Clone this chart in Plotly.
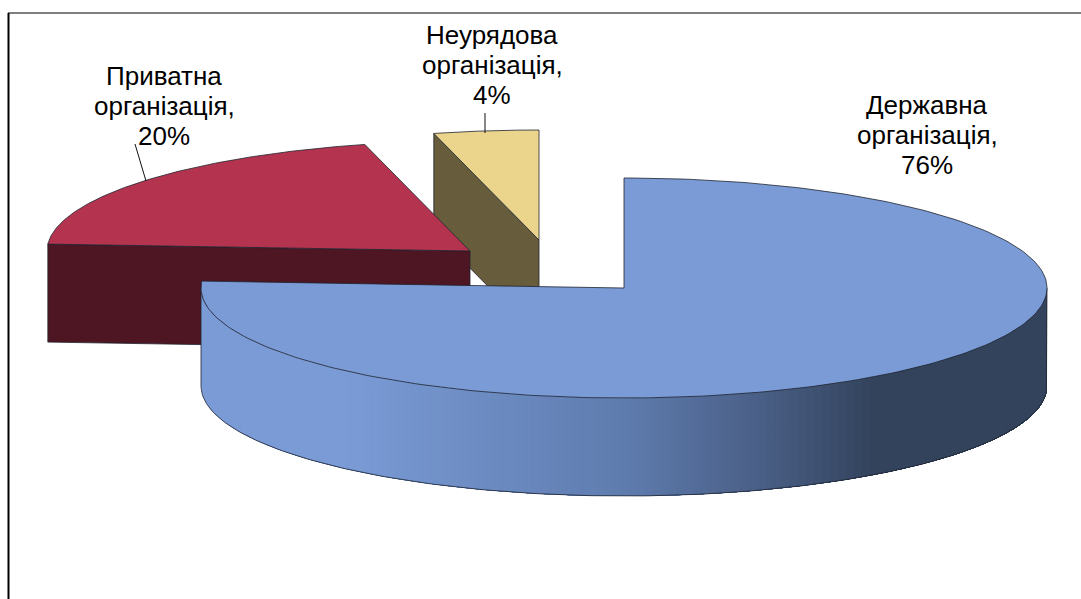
import numpy as np
import plotly.graph_objects as go

# --- data ---
categories = [["Державна", "організація,"], ["Приватна", "організація,"], ["Неурядова", "організація,"]]
shares = [76, 20, 4]
top_colors = ["#7A9BD6", "#B4344F", "#EBD48B"]
side_colors = ["#7A9BD6", "#4E1522", "#675C3B"]

# --- drawing geometry (pixels) ---
W, H = 1081, 599
RX, RY, DEPTH = 423, 110, 98
centers = [(624, 288), (470, 251), (539, 240)]
label_pos = [(927, 135), (164, 106), (492, 65)]
LINE_STEP = 30
leaders = [None, ((146, 181), (135, 144)), ((485, 133), (485, 113))]
EDGE = "#1f2430"

cum = np.cumsum([0] + shares) / sum(shares) * 360
spans = [(cum[i], cum[i + 1]) for i in range(len(shares))]


def pt(c, deg, dz=0.0):
    r = np.radians(deg)
    return c[0] + RX * np.sin(r), c[1] - RY * np.cos(r) + dz


def arc(c, a0, a1, dz=0.0, n=240):
    return pt(c, np.linspace(a0, a1, n), dz)


def poly(fig, x, y, fill, line=EDGE, width=0.8):
    fig.add_trace(go.Scatter(x=list(x), y=list(y), mode="lines", fill="toself", fillcolor=fill,
                             line=dict(color=line, width=width), hoverinfo="skip", showlegend=False))


def wedge(c, a0, a1):
    ax, ay = arc(c, a0, a1)
    return np.r_[c[0], ax, c[0]], np.r_[c[1], ay, c[1]]


def radial_face(c, deg):
    px, py = pt(c, deg)
    return [c[0], px, px, c[0], c[0]], [c[1], py, py + DEPTH, c[1] + DEPTH, c[1]]


def lerp_hex(stops, t):
    for (t0, a), (t1, b) in zip(stops, stops[1:]):
        if t <= t1:
            f = 0 if t1 == t0 else max(0, (t - t0) / (t1 - t0))
            ca = [int(a[i:i + 2], 16) for i in (1, 3, 5)]
            cb = [int(b[i:i + 2], 16) for i in (1, 3, 5)]
            return "rgb(%d,%d,%d)" % tuple(round(u + (v - u) * f) for u, v in zip(ca, cb))
    return stops[-1][1]


fig = go.Figure()

# neurjadova: radial face, then top
poly(fig, *radial_face(centers[2], spans[2][0]), side_colors[2])
poly(fig, *wedge(centers[2], *spans[2]), top_colors[2])

# pryvatna: radial face, then top
poly(fig, *radial_face(centers[1], spans[1][0]), side_colors[1])
poly(fig, *wedge(centers[1], *spans[1]), top_colors[1])

# derzhavna: outer wall, painted left to right; each band runs to the right end so no seams show
c0 = centers[0]
stops = [(0.0, "#7A9BD6"), (0.17, "#7A9BD6"), (0.50, "#5F7CAE"), (0.66, "#4A5F86"), (0.795, "#33435C"), (1.0, "#33435C")]
edges = np.linspace(-1, 1, 106)
for l, r in zip(edges[:-1], edges[1:]):
    phi = np.linspace(0, np.arccos(l), 60)  # parameter along the front half
    sx = c0[0] + RX * np.cos(phi)
    sy = c0[1] + RY * np.sin(phi)
    col = lerp_hex(stops, (0.5 * (l + r) + 1) / 2)
    fig.add_trace(go.Scatter(x=np.r_[sx, sx[::-1], sx[0]], y=np.r_[sy, sy[::-1] + DEPTH, sy[0]], mode="none",
                             fill="toself", fillcolor=col, hoverinfo="skip", showlegend=False))

# wall outline
ox, oy = arc(c0, 90, 270)
bx, by = arc(c0, 90, 270, DEPTH)
fig.add_trace(go.Scatter(x=np.r_[ox[0], bx, ox[-1]], y=np.r_[oy[0], by, oy[-1]], mode="lines",
                         line=dict(color=EDGE, width=0.8), hoverinfo="skip", showlegend=False))
# top of the large slice
poly(fig, *wedge(c0, *spans[0]), top_colors[0])

# leader lines
for seg in leaders:
    if seg:
        fig.add_trace(go.Scatter(x=[seg[0][0], seg[1][0]], y=[seg[0][1], seg[1][1]], mode="lines",
                                 line=dict(color="#111111", width=1), hoverinfo="skip", showlegend=False))

annotations = []
for cat, val, p in zip(categories, shares, label_pos):
    for k, txt in enumerate(cat + [f"{val}%"]):
        annotations.append(dict(x=p[0], y=p[1] + (k - 1) * LINE_STEP, xref="x", yref="y", text=txt, showarrow=False,
                                xanchor="center", yanchor="middle",
                                font=dict(family="Liberation Sans", size=26, color="#000000")))

fig.update_layout(
    width=W, height=H, autosize=False, margin=dict(l=0, r=0, t=0, b=0),
    paper_bgcolor="white", plot_bgcolor="white", showlegend=False,
    xaxis=dict(range=[0, W], visible=False, fixedrange=True),
    yaxis=dict(range=[H, 0], visible=False, fixedrange=True),
    annotations=annotations,
    shapes=[
        dict(type="line", xref="x", yref="y", x0=8, x1=W, y0=13, y1=13, line=dict(color="#7F7F7F", width=2)),
        dict(type="line", xref="x", yref="y", x0=8.5, x1=8.5, y0=13, y1=H, line=dict(color="#000000", width=2)),
    ],
)
fig.write_html("out.html", config=dict(displayModeBar=False),
               post_script="document.body.style.margin='0';document.body.style.overflow='hidden';")
